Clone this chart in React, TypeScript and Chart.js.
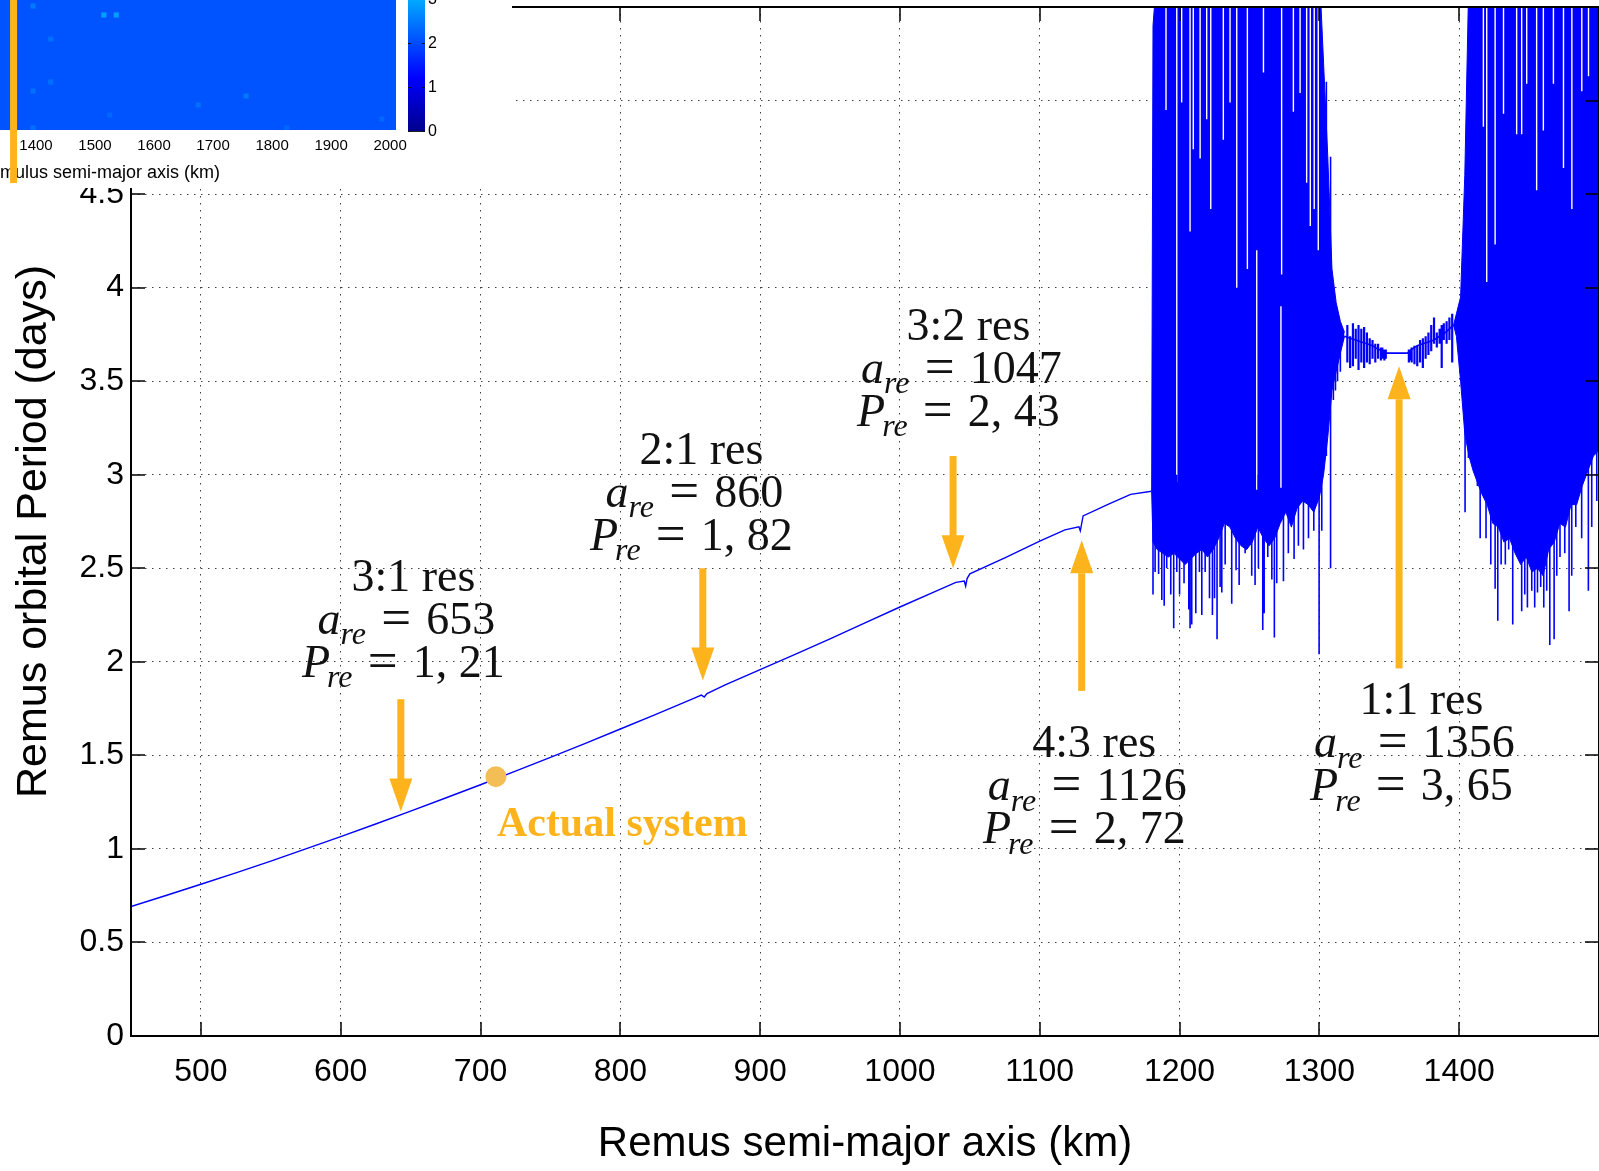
import React, { useEffect, useRef } from 'react';
import { Chart, registerables } from 'chart.js';

Chart.register(...registerables);

const SANS = "'Liberation Sans', Arial, Helvetica, sans-serif";
const SERIF = "'Liberation Serif', 'Times New Roman', Times, serif";
const BLUE = '#0000ff';
const ORANGE = '#fdb41c';

// ---------------- Main plot data (Remus semi-major axis km -> period days) ----------------
// Regular (smooth) part of the curve
const curveA = [450, 475, 500, 525, 550, 575, 600, 625, 650, 675, 700, 725, 750, 775, 800, 825, 850, 858, 860, 862, 875, 900, 925, 950, 975, 1000, 1025, 1040, 1046, 1047, 1048, 1050, 1075, 1100, 1118, 1128, 1129, 1131, 1150, 1165, 1180];
const curveP = [0.692, 0.751, 0.811, 0.872, 0.935, 1.0, 1.066, 1.133, 1.202, 1.272, 1.343, 1.416, 1.489, 1.564, 1.641, 1.718, 1.797, 1.822, 1.812, 1.83, 1.877, 1.958, 2.04, 2.123, 2.208, 2.293, 2.375, 2.425, 2.432, 2.405, 2.445, 2.47, 2.556, 2.645, 2.705, 2.722, 2.7, 2.78, 2.845, 2.895, 2.912];

// Left chaotic lobe: solid core envelope
const lobeLeftA = [1180, 1181, 1184, 1188, 1192, 1196, 1200, 1204, 1208, 1212, 1216, 1220, 1224, 1228, 1232, 1236, 1240, 1244, 1248, 1252, 1256, 1260, 1264, 1268, 1272, 1276, 1280, 1284, 1288, 1292, 1296, 1300, 1303, 1306, 1309, 1312, 1315, 1318];
const lobeLeftTop = [2.91, 5.4, 5.7, 5.7, 5.7, 5.7, 5.7, 5.7, 5.7, 5.7, 5.7, 5.7, 5.7, 5.7, 5.7, 5.7, 5.7, 5.7, 5.7, 5.7, 5.7, 5.7, 5.7, 5.7, 5.7, 5.7, 5.7, 5.7, 5.7, 5.7, 5.7, 5.7, 5.2, 4.7, 4.1, 3.92, 3.82, 3.76];
const lobeLeftBottom = [2.91, 2.64, 2.6, 2.58, 2.56, 2.58, 2.55, 2.52, 2.55, 2.58, 2.6, 2.56, 2.6, 2.66, 2.74, 2.72, 2.66, 2.62, 2.6, 2.64, 2.72, 2.66, 2.62, 2.66, 2.74, 2.8, 2.72, 2.82, 2.86, 2.84, 2.8, 2.88, 3.0, 3.2, 3.45, 3.55, 3.65, 3.74];

// Right chaotic lobe: solid core envelope
const lobeRightA = [1396, 1398, 1401, 1404, 1407, 1410, 1413, 1416, 1420, 1424, 1428, 1432, 1436, 1440, 1444, 1448, 1452, 1456, 1460, 1464, 1468, 1472, 1476, 1480, 1484, 1488, 1492, 1496, 1500];
const lobeRightTop = [3.8, 3.86, 3.95, 4.6, 5.7, 5.7, 5.7, 5.7, 5.7, 5.7, 5.7, 5.7, 5.7, 5.7, 5.7, 5.7, 5.7, 5.7, 5.7, 5.7, 5.7, 5.7, 5.7, 5.7, 5.7, 5.7, 5.7, 5.7, 5.7];
const lobeRightBottom = [3.8, 3.74, 3.5, 3.22, 3.1, 3.02, 2.96, 2.9, 2.84, 2.74, 2.72, 2.64, 2.66, 2.58, 2.52, 2.56, 2.48, 2.5, 2.46, 2.6, 2.64, 2.74, 2.72, 2.84, 2.84, 2.94, 3.02, 3.1, 3.13];

// Quasi-stable band around the 1:1 resonance
const midA = [1318, 1322, 1326, 1330, 1334, 1338, 1342, 1346, 1348, 1356, 1363, 1366, 1370, 1374, 1378, 1382, 1386, 1390, 1393, 1396];
const midP = [3.74, 3.73, 3.72, 3.71, 3.7, 3.69, 3.67, 3.66, 3.65, 3.65, 3.65, 3.67, 3.69, 3.7, 3.71, 3.72, 3.74, 3.76, 3.78, 3.8];

// Vertical excursions (spikes): a, lowest period, highest period
const spikeA = [1181, 1182.5, 1185, 1187.3, 1189, 1190.8, 1193.7, 1195.8, 1198, 1200, 1203.2, 1206.6, 1207.5, 1208.7, 1211.6, 1214.2, 1215.9, 1218.3, 1221.4, 1223.5, 1225, 1226.8, 1229, 1230.2, 1232.6, 1237.3, 1240.4, 1242.6, 1246.9, 1251.6, 1254, 1256.4, 1259.5, 1260.5, 1263.1, 1266, 1267.8, 1269.5, 1274.3, 1277.8, 1281.9, 1285, 1288.6, 1292.2, 1296, 1299.8, 1301.7, 1305, 1308, 1310, 1311.5, 1313, 1315,
  1404.2, 1406.6, 1413, 1415, 1419.2, 1422.6, 1425.7, 1427.6, 1430, 1433, 1435.4, 1438.3, 1441.6, 1444.7, 1446.9, 1448.8, 1451.9, 1454, 1456, 1458.3, 1460.5, 1462.6, 1464.8, 1467.9, 1469.8, 1472.1, 1475.5, 1478.6, 1480.5, 1483.4, 1487.6, 1492.4, 1494.8, 1498.4];
const spikeLo = [2.36, 2.48, 2.47, 2.33, 2.3, 2.5, 2.36, 2.18, 2.48, 2.36, 2.42, 2.28, 2.18, 2.2, 2.26, 2.48, 2.25, 2.48, 2.34, 2.25, 2.34, 2.12, 2.4, 2.37, 2.52, 2.31, 2.49, 2.41, 2.58, 2.46, 2.41, 2.5, 2.17, 2.26, 2.56, 2.44, 2.13, 2.42, 2.43, 2.58, 2.55, 2.62, 2.6, 2.66, 2.7, 2.04, 2.7, 3.1, 2.5, 3.4, 3.45, 3.5, 3.55,
  2.8, 3.09, 2.94, 2.66, 2.66, 2.52, 2.39, 2.22, 2.52, 2.52, 2.6, 2.2, 2.62, 2.27, 2.36, 2.29, 2.38, 2.29, 2.37, 2.4, 2.29, 2.38, 2.09, 2.12, 2.46, 2.56, 2.58, 2.27, 2.46, 2.72, 2.66, 2.38, 2.72, 2.86];
const spikeHi = [3.0, 3.0, 3.0, 3.0, 3.0, 3.0, 3.0, 3.0, 3.0, 3.0, 3.0, 3.0, 3.0, 3.0, 3.0, 3.0, 3.0, 3.0, 3.0, 3.0, 3.0, 3.0, 3.0, 3.0, 3.0, 3.0, 3.0, 3.0, 3.0, 3.0, 3.0, 3.0, 3.0, 3.0, 3.0, 3.0, 3.0, 3.0, 3.0, 3.0, 3.0, 3.0, 3.0, 3.0, 3.0, 3.0, 3.2, 5.1, 4.7, 3.9, 3.85, 3.85, 3.8,
  3.4, 3.4, 3.2, 3.2, 3.2, 3.2, 3.2, 3.2, 3.2, 3.2, 3.2, 3.2, 3.2, 3.2, 3.2, 3.2, 3.2, 3.2, 3.2, 3.2, 3.2, 3.2, 3.2, 3.2, 3.2, 3.2, 3.2, 3.2, 3.2, 3.2, 3.2, 3.2, 3.2, 3.2];

// Short excursions along the quasi-stable band
const bandSpikeA = [1320, 1322, 1324, 1326, 1328, 1330, 1332, 1334, 1336, 1338, 1340, 1342, 1344, 1345, 1346.5, 1347.5, 1364, 1365, 1366, 1368, 1370, 1372, 1374, 1376, 1378, 1380, 1382, 1384, 1386, 1387.5, 1389, 1391, 1393, 1395];
const bandSpikeLo = [3.6, 3.57, 3.58, 3.62, 3.56, 3.6, 3.57, 3.6, 3.59, 3.62, 3.6, 3.62, 3.61, 3.62, 3.61, 3.62, 3.6, 3.61, 3.6, 3.59, 3.58, 3.6, 3.57, 3.62, 3.64, 3.66, 3.7, 3.68, 3.7, 3.57, 3.72, 3.7, 3.72, 3.6];
const bandSpikeHi = [3.8, 3.74, 3.81, 3.78, 3.8, 3.78, 3.79, 3.76, 3.73, 3.72, 3.7, 3.7, 3.68, 3.68, 3.67, 3.67, 3.67, 3.67, 3.68, 3.69, 3.69, 3.72, 3.73, 3.74, 3.76, 3.8, 3.84, 3.76, 3.78, 3.8, 3.81, 3.82, 3.84, 3.86];

// Gaps inside the chaotic cores (no trajectory): a, from, to
const gapA = [1190.3, 1198, 1201.5, 1207.5, 1209.8, 1214.7, 1219.4, 1222.3, 1231.3, 1236.1, 1240.9, 1248.5, 1255.2, 1260, 1272.5, 1273, 1281.4, 1286.2, 1290.9, 1293.5, 1296.3, 1299.2,
  1417.3, 1419.7, 1425.7, 1431.7, 1441.1, 1444.7, 1448.3, 1455.4, 1460.2, 1467.4, 1474.6, 1480.6, 1487.7, 1492.5];
const gapLo = [4.95, 2.96, 4.99, 4.3, 4.74, 4.69, 4.9, 4.42, 4.79, 4.99, 4.0, 4.1, 2.92, 5.15, 2.93, 4.07, 4.94, 5.04, 4.56, 4.33, 4.42, 4.2,
  4.86, 4.03, 4.23, 4.93, 4.82, 4.82, 5.09, 4.52, 4.84, 5.09, 4.64, 4.42, 5.05, 5.13];
const gapHi = [5.7, 5.7, 5.7, 5.7, 5.7, 5.7, 5.7, 5.7, 5.7, 5.7, 5.7, 5.7, 4.2, 5.7, 3.9, 5.7, 5.7, 5.7, 5.7, 5.7, 5.7, 5.7,
  5.7, 5.7, 5.7, 5.7, 5.7, 5.7, 5.7, 5.7, 5.7, 5.7, 5.7, 5.7, 5.7, 5.7];

// Actual system
const actualA = 711;
const actualP = 1.386;

// Resonance annotations
const resTitles = ['3:1 res', '2:1 res', '3:2 res', '4:3 res', '1:1 res'];
const resAValues = ['653', '860', '1047', '1126', '1356'];
const resPValues = ['1, 21', '1, 82', '2, 43', '2, 72', '3, 65'];
// arrows: a, start period, tip period
const arrowA = [643, 859, 1038, 1130, 1357];
const arrowFrom = [1.8, 2.5, 3.1, 1.85, 1.97];
const arrowTo = [1.2, 1.9, 2.5, 2.65, 3.58];
// label block anchors (data space, centre of first line)
const labelAnchorA = [652, 858, 1049, 1139, 1373];
const labelAnchorP = [2.46, 3.14, 3.8, 1.57, 1.8];

const xTickValues = [500, 600, 700, 800, 900, 1000, 1100, 1200, 1300, 1400];
const yTickValues = [0, 0.5, 1, 1.5, 2, 2.5, 3, 3.5, 4, 4.5, 5];
const yTitle = 'Remus orbital Period (days)';

// ---------------- Inset (Romulus semi-major axis map) ----------------
const insetTickValues = [1400, 1500, 1600, 1700, 1800, 1900, 2000];
const insetCellA = [1395, 1515, 1536, 1425, 1425, 1395, 1525, 1756, 1675, 1986, 1825, 1395];
const insetCellRow = [24.8, 23, 23, 18.2, 9.6, 7.8, 3, 6.8, 5, 2.2, 0.4, 0.4];
const insetCellVal = [2.5, 2.9, 2.9, 2.4, 2.4, 2.4, 2.3, 2.5, 2.4, 2.3, 2.3, 2.4];
const insetBackgroundVal = 2.1;
const romulusActualA = 1362;
const colorbarTicks = [0, 1, 2, 3];

function clamp01(v: number) { return Math.max(0, Math.min(1, v)); }
function jetColor(v: number) {
  const t = 0.0125 + 0.093 * v;
  const r = clamp01(Math.min(4 * t - 1.5, -4 * t + 4.5));
  const g = clamp01(Math.min(4 * t - 0.5, -4 * t + 3.5));
  const b = clamp01(Math.min(4 * t + 0.5, -4 * t + 2.5));
  return `rgb(${Math.round(r * 255)},${Math.round(g * 255)},${Math.round(b * 255)})`;
}

function pairs(xs: number[], ys: number[]) { return xs.map((x, i) => ({ x, y: ys[i] })); }
function segments(xs: number[], lo: number[], hi: number[]) {
  const out: any[] = [];
  xs.forEach((x, i) => { out.push({ x, y: hi[i] }, { x, y: lo[i] }, { x, y: null }); });
  return out;
}

function zeroPadding(s: any) {
  s.paddingTop = 0; s.paddingBottom = 0; s.paddingLeft = 0; s.paddingRight = 0;
}

function drawArrow(ctx: CanvasRenderingContext2D, x: number, y0: number, y1: number) {
  const shaft = 7, headW = 23, headL = 33;
  const dir = Math.sign(y1 - y0);
  const yb = y1 - dir * headL;
  ctx.fillRect(x - shaft / 2, Math.min(y0, yb), shaft, Math.abs(yb - y0) + 1);
  ctx.beginPath();
  ctx.moveTo(x - headW / 2, yb);
  ctx.lineTo(x + headW / 2, yb);
  ctx.lineTo(x, y1);
  ctx.closePath();
  ctx.fill();
}

function drawMath(ctx: CanvasRenderingContext2D, cx: number, cy: number, sym: string, val: string, size: number) {
  const fIt = `italic ${size}px ${SERIF}`;
  const fSub = `italic ${Math.round(size * 0.7)}px ${SERIF}`;
  const fRm = `${size}px ${SERIF}`;
  const fEq = `${Math.round(size * 1.15)}px ${SERIF}`;
  ctx.font = fIt; const w1 = ctx.measureText(sym).width;
  ctx.font = fSub; const w2 = ctx.measureText('re').width;
  ctx.font = fEq; const wEq = ctx.measureText('=').width;
  ctx.font = fRm; const w3 = ctx.measureText(val).width;
  const gap = size * 0.33;
  const kern = sym === 'P' ? 3 : 0;
  const total = w1 - kern + w2 + gap * 2 + wEq + w3;
  let x = cx - total / 2;
  const base = cy + size * 0.33;
  ctx.textAlign = 'left';
  ctx.textBaseline = 'alphabetic';
  ctx.font = fIt; ctx.fillText(sym, x, base); x += w1 - kern;
  ctx.font = fSub; ctx.fillText('re', x, base + size * 0.22); x += w2 + gap;
  ctx.font = fEq; ctx.fillText('=', x, base + 1); x += wEq + gap;
  ctx.font = fRm; ctx.fillText(val, x, base);
}

const mainOverlay = {
  id: 'mainOverlay',
  afterDatasetsDraw(chart: any) {
    const { ctx, chartArea: ca } = chart;
    const xs = chart.scales.x, ys = chart.scales.y;
    ctx.save();
    // frame
    ctx.strokeStyle = '#000';
    ctx.lineWidth = 2;
    ctx.strokeRect(ca.left, ca.top, ca.right - ca.left, ca.bottom - ca.top);
    // inward ticks
    ctx.lineWidth = 1.5;
    ctx.beginPath();
    xTickValues.forEach((v) => {
      const p = Math.round(xs.getPixelForValue(v));
      ctx.moveTo(p, ca.bottom); ctx.lineTo(p, ca.bottom - 14);
      ctx.moveTo(p, ca.top); ctx.lineTo(p, ca.top + 14);
    });
    yTickValues.forEach((v) => {
      const p = Math.round(ys.getPixelForValue(v));
      ctx.moveTo(ca.left, p); ctx.lineTo(ca.left + 14, p);
      ctx.moveTo(ca.right, p); ctx.lineTo(ca.right - 14, p);
    });
    ctx.stroke();
    // arrows
    ctx.fillStyle = ORANGE;
    arrowA.forEach((a, i) => {
      drawArrow(ctx, xs.getPixelForValue(a), ys.getPixelForValue(arrowFrom[i]), ys.getPixelForValue(arrowTo[i]));
    });
    // resonance labels
    const size = 46;
    ctx.fillStyle = '#111';
    resTitles.forEach((t, i) => {
      const cx = xs.getPixelForValue(labelAnchorA[i]);
      const cy = ys.getPixelForValue(labelAnchorP[i]);
      ctx.font = `${size}px ${SERIF}`;
      ctx.textAlign = 'center';
      ctx.textBaseline = 'alphabetic';
      ctx.fillText(t, cx, cy + size * 0.33);
      drawMath(ctx, cx - 7, cy + 43, 'a', resAValues[i], size);
      drawMath(ctx, cx - 10, cy + 86, 'P', resPValues[i], size);
    });
    // actual system label
    const ax = xs.getPixelForValue(actualA);
    const ay = ys.getPixelForValue(actualP);
    ctx.fillStyle = ORANGE;
    ctx.font = `bold 42px ${SERIF}`;
    ctx.textAlign = 'left';
    ctx.textBaseline = 'alphabetic';
    ctx.fillText('Actual system', ax + 1, ay + 45 + 14);
    // y axis title (slightly below the plot centre, as in the original figure)
    ctx.fillStyle = '#000';
    ctx.font = `43px ${SANS}`;
    ctx.textAlign = 'center';
    ctx.textBaseline = 'middle';
    ctx.translate(34, (ca.top + ca.bottom) / 2 + 10);
    ctx.rotate(-Math.PI / 2);
    ctx.fillText(yTitle, 0, 0);
    ctx.restore();
  },
};

function buildMainConfig(): any {
  return {
    type: 'scatter',
    data: {
      datasets: [
        { label: 'curve', data: pairs(curveA, curveP), showLine: true, borderColor: BLUE, borderWidth: 1.4, pointRadius: 0, order: 1 },
        { label: 'band', data: pairs(midA, midP), showLine: true, borderColor: BLUE, borderWidth: 1.6, pointRadius: 0, order: 1 },
        { label: 'actual', data: [{ x: actualA, y: actualP }], pointRadius: 10.5, backgroundColor: '#f2be55', borderWidth: 0, order: 0 },
        { label: 'leftTop', data: pairs(lobeLeftA, lobeLeftTop), showLine: true, fill: '+1', backgroundColor: BLUE, borderColor: BLUE, borderWidth: 1, pointRadius: 0, order: 6 },
        { label: 'leftBottom', data: pairs(lobeLeftA, lobeLeftBottom), showLine: true, fill: false, borderColor: BLUE, borderWidth: 1, pointRadius: 0, order: 6 },
        { label: 'rightTop', data: pairs(lobeRightA, lobeRightTop), showLine: true, fill: '+1', backgroundColor: BLUE, borderColor: BLUE, borderWidth: 1, pointRadius: 0, order: 6 },
        { label: 'rightBottom', data: pairs(lobeRightA, lobeRightBottom), showLine: true, fill: false, borderColor: BLUE, borderWidth: 1, pointRadius: 0, order: 6 },
        { label: 'gaps', data: segments(gapA, gapLo, gapHi), showLine: true, spanGaps: false, borderColor: '#ffffff', borderWidth: 1.4, pointRadius: 0, order: 5 },
        { label: 'spikes', data: segments(spikeA, spikeLo, spikeHi), showLine: true, spanGaps: false, borderColor: BLUE, borderWidth: 1.6, pointRadius: 0, order: 4 },
        { label: 'bandSpikes', data: segments(bandSpikeA, bandSpikeLo, bandSpikeHi), showLine: true, spanGaps: false, borderColor: BLUE, borderWidth: 2.2, pointRadius: 0, order: 4 },
      ],
    },
    options: {
      responsive: false,
      animation: false,
      devicePixelRatio: 1,
      events: [],
      layout: { autoPadding: false, padding: { left: 0, right: 0, top: 7, bottom: 0 } },
      plugins: { legend: { display: false }, tooltip: { enabled: false } },
      scales: {
        x: {
          type: 'linear', min: 450, max: 1500,
          afterBuildTicks: (s: any) => { s.ticks = xTickValues.map((v) => ({ value: v })); },
          afterFit: (s: any) => { s.height = 135; zeroPadding(s); },
          ticks: { autoSkip: false, maxRotation: 0, padding: 17, color: '#000', font: { family: SANS, size: 32 }, callback: (v: any) => String(v) },
          grid: { color: 'rgba(0,0,0,0.75)', lineWidth: 1, drawTicks: false },
          border: { display: false, dash: [1.5, 5.5] },
          title: { display: true, text: 'Remus semi-major axis (km)', color: '#000', font: { family: SANS, size: 42 }, padding: { top: 0, bottom: 1 } },
        },
        y: {
          type: 'linear', min: 0, max: 5.5,
          afterBuildTicks: (s: any) => { s.ticks = yTickValues.map((v) => ({ value: v })); },
          afterFit: (s: any) => { s.width = 131; zeroPadding(s); },
          ticks: { autoSkip: false, padding: 7, color: '#000', font: { family: SANS, size: 32 }, callback: (v: any) => String(v) },
          grid: { color: 'rgba(0,0,0,0.75)', lineWidth: 1, drawTicks: false },
          border: { display: false, dash: [1.5, 5.5] },
          title: { display: false },
        },
      },
    },
    plugins: [mainOverlay],
  };
}

const insetPlugin = {
  id: 'insetPlugin',
  beforeDatasetsDraw(chart: any) {
    const { ctx, chartArea: ca } = chart;
    ctx.save();
    ctx.fillStyle = jetColor(insetBackgroundVal);
    ctx.fillRect(ca.left, ca.top, ca.right - ca.left, ca.bottom - ca.top);
    ctx.restore();
  },
  afterDraw(chart: any) {
    const { ctx } = chart;
    const xs = chart.scales.x;
    ctx.save();
    ctx.fillStyle = '#000';
    ctx.font = `18px ${SANS}`;
    ctx.textBaseline = 'middle';
    ctx.textAlign = 'left';
    const pre = ctx.measureText('Ro').width;
    ctx.fillText('Romulus semi-major axis (km)', -pre, 173);
    const ox = xs.getPixelForValue(romulusActualA);
    ctx.fillStyle = ORANGE;
    ctx.fillRect(ox - 3.5, 0, 7, 183);
    ctx.restore();
  },
};

function buildInsetConfig(): any {
  return {
    type: 'scatter',
    data: {
      datasets: [{
        label: 'cells',
        data: pairs(insetCellA, insetCellRow),
        pointStyle: 'rect',
        pointRadius: 3.6,
        backgroundColor: insetCellVal.map((v) => jetColor(v)),
        borderWidth: 0,
      }],
    },
    options: {
      responsive: false,
      animation: false,
      devicePixelRatio: 1,
      events: [],
      layout: { autoPadding: false, padding: { left: 0, right: 116, top: 0, bottom: 0 } },
      plugins: { legend: { display: false }, tooltip: { enabled: false } },
      scales: {
        x: {
          type: 'linear', min: 1339, max: 2010,
          afterBuildTicks: (s: any) => { s.ticks = insetTickValues.map((v) => ({ value: v })); },
          afterFit: (s: any) => { s.height = 58; zeroPadding(s); },
          grid: { display: false, drawTicks: false },
          border: { display: false },
          ticks: { autoSkip: false, maxRotation: 0, padding: 7, color: '#000', font: { family: SANS, size: 15 }, callback: (v: any) => String(v) },
        },
        y: { display: false, min: 0, max: 26 },
      },
    },
    plugins: [insetPlugin],
  };
}

function colorbarGradient() {
  const top = 3.1;
  const stops: string[] = [];
  for (let v = 0; v <= top + 1e-9; v += 0.1) {
    stops.push(`${jetColor(v)} ${((v / top) * 100).toFixed(2)}%`);
  }
  return `linear-gradient(to top, ${stops.join(', ')})`;
}

export default function App() {
  const mainRef = useRef<HTMLCanvasElement>(null);
  const insetRef = useRef<HTMLCanvasElement>(null);

  useEffect(() => {
    document.body.style.margin = '0';
    const main = new Chart(mainRef.current as HTMLCanvasElement, buildMainConfig());
    const inset = new Chart(insetRef.current as HTMLCanvasElement, buildInsetConfig());
    return () => { main.destroy(); inset.destroy(); };
  }, []);

  const cbBottom = 131;
  const cbUnit = 44;
  return (
    <div style={{ position: 'fixed', left: 0, top: 0, width: 1599, height: 1171, overflow: 'hidden', background: '#fff' }}>
      <canvas ref={mainRef} width={1599} height={1171} style={{ position: 'absolute', left: 0, top: 0 }} />
      <div style={{ position: 'absolute', left: 0, top: 0, width: 512, height: 188, background: '#fff', overflow: 'hidden' }}>
        <canvas ref={insetRef} width={512} height={188} style={{ position: 'absolute', left: 0, top: 0 }} />
        <div style={{ position: 'absolute', left: 408, top: cbBottom - 3.1 * cbUnit, width: 17, height: 3.1 * cbUnit, background: colorbarGradient(), borderBottom: '1px solid #222' }} />
        {colorbarTicks.map((v) => (
          <React.Fragment key={v}>
            <div style={{ position: 'absolute', left: 408, top: cbBottom - v * cbUnit, width: 3, height: 1, background: '#111' }} />
            <div style={{ position: 'absolute', left: 422, top: cbBottom - v * cbUnit, width: 3, height: 1, background: '#111' }} />
            <div style={{ position: 'absolute', left: 428, top: cbBottom - v * cbUnit - 10, height: 20, lineHeight: '20px', fontFamily: SANS, fontSize: 16, color: '#000' }}>{String(v)}</div>
          </React.Fragment>
        ))}
      </div>
    </div>
  );
}
